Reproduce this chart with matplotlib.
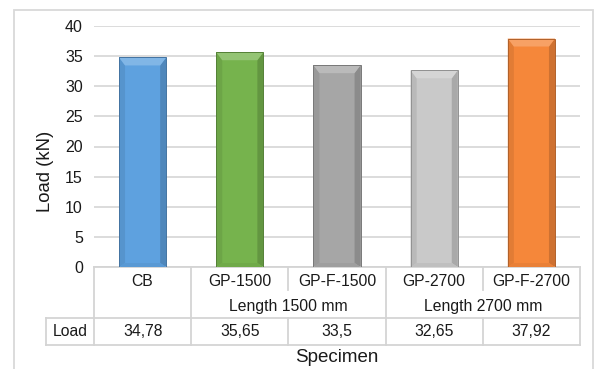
import matplotlib
matplotlib.use("Agg")
import matplotlib.pyplot as plt
from matplotlib.colors import to_rgb
from matplotlib.patches import Polygon, Rectangle
from matplotlib.transforms import blended_transform_factory

plt.rcParams["font.family"] = ["Liberation Sans", "DejaVu Sans"]

specimens = ["CB", "GP-1500", "GP-F-1500", "GP-2700", "GP-F-2700"]
loads = [34.78, 35.65, 33.5, 32.65, 37.92]
load_labels = ["34,78", "35,65", "33,5", "32,65", "37,92"]
groups = [("Length 1500 mm", 1, 2), ("Length 2700 mm", 3, 4)]
colors = ["#5EA1DF", "#76B34D", "#A6A6A6", "#C9C9C9", "#F5873A"]

W, H = 597, 369
fig = plt.figure(figsize=(W / 100, H / 100), dpi=100)

# plot area in pixels (top-left origin)
px_l, px_r, px_t, px_b = 94, 580, 26, 267
ax = fig.add_axes([px_l / W, 1 - px_b / H, (px_r - px_l) / W, (px_b - px_t) / H])
ax.set_xlim(-0.5, len(specimens) - 0.5)
ax.set_ylim(0, 40)
ax.set_yticks(range(0, 41, 5))
ax.set_xticks([])
ax.tick_params(axis="y", length=0, pad=8, labelsize=11.5, labelcolor="#1a1a1a")
for s in ax.spines.values():
    s.set_visible(False)
ax.grid(axis="y", color="#D9D9D9", lw=1.3)
ax.set_axisbelow(True)

xpx = 1 / ((px_r - px_l) / len(specimens))   # data units per pixel, x
ypx = 40 / (px_b - px_t)                     # data units per pixel, y


def shade(c, f):
    r, g, b = to_rgb(c)
    if f > 0:
        return (r + (1 - r) * f, g + (1 - g) * f, b + (1 - b) * f)
    return (r * (1 + f), g * (1 + f), b * (1 + f))


width = 0.485
bars = ax.bar(range(len(specimens)), loads, width=width, color=colors, zorder=2)

# bevelled look: light top facet, darker side facets
sx, ht, hb = 6 * xpx, 8 * ypx, 4 * ypx
for rect, c in zip(bars, colors):
    x0, x1 = rect.get_x(), rect.get_x() + rect.get_width()
    top = rect.get_height()
    facets = [
        ([(x0, 0), (x0, top), (x0 + sx, top - ht), (x0 + sx, hb)], shade(c, -0.08)),
        ([(x1, 0), (x1, top), (x1 - sx, top - ht), (x1 - sx, hb)], shade(c, -0.16)),
        ([(x0, 0), (x1, 0), (x1 - sx, hb), (x0 + sx, hb)], shade(c, -0.05)),
        ([(x0, top), (x1, top), (x1 - sx, top - ht), (x0 + sx, top - ht)], shade(c, 0.22)),
    ]
    for pts, fc in facets:
        ax.add_patch(Polygon(pts, closed=True, fc=fc, ec="none", zorder=3))
    ax.add_patch(Rectangle((x0, 0), x1 - x0, top, fill=False,
                           ec=shade(c, -0.28), lw=0.7, zorder=4))

ax.text((45 - px_l) / (px_r - px_l), (px_b - 171) / (px_b - px_t), "Load (kN)",
        transform=ax.transAxes, rotation=90, ha="center", va="center",
        fontsize=13.3, color="#1a1a1a")

# data table under the axis: x in data units, y in figure pixels
tr = blended_transform_factory(ax.transData, fig.transFigure)


def fy(p):
    return 1 - p / H


line_kw = dict(color="#D4D4D4", lw=1.3, transform=tr, clip_on=False)
xl, xr = -0.5, len(specimens) - 0.5
xload = -0.995
row_top, row_mid, row_bot = 267, 318, 345
ax.plot([xl, xr], [fy(row_top)] * 2, **line_kw)
ax.plot([xload, xr], [fy(row_mid)] * 2, **line_kw)
ax.plot([xload, xr], [fy(row_bot)] * 2, **line_kw)
ax.plot([xload, xload], [fy(row_mid), fy(row_bot)], **line_kw)
for x in (-0.5, 0.5, 2.5, 4.5):
    ax.plot([x, x], [fy(row_top), fy(row_bot)], **line_kw)
for x in (1.5, 3.5):
    ax.plot([x, x], [fy(row_top), fy(290)], **line_kw)
    ax.plot([x, x], [fy(row_mid), fy(row_bot)], **line_kw)

txt_kw = dict(transform=tr, ha="center", va="center", fontsize=11.3, color="#1a1a1a")
for i, name in enumerate(specimens):
    ax.text(i, fy(281), name, **txt_kw)
for name, a, b in groups:
    ax.text((a + b) / 2, fy(306), name, **txt_kw)
ax.text((xload + xl) / 2, fy(332), "Load", **txt_kw)
for i, lab in enumerate(load_labels):
    ax.text(i, fy(332), lab, **txt_kw)
ax.text(2, fy(357), "Specimen", transform=tr, ha="center", va="center",
        fontsize=13.5, color="#1a1a1a")

# chart frame
fig.patches.append(Rectangle((14 / W, -0.05), (593 - 14) / W, 1.05 - 10 / H,
                             transform=fig.transFigure, fill=False,
                             ec="#D9D9D9", lw=1.3))

fig.savefig("out.png", dpi=100)
